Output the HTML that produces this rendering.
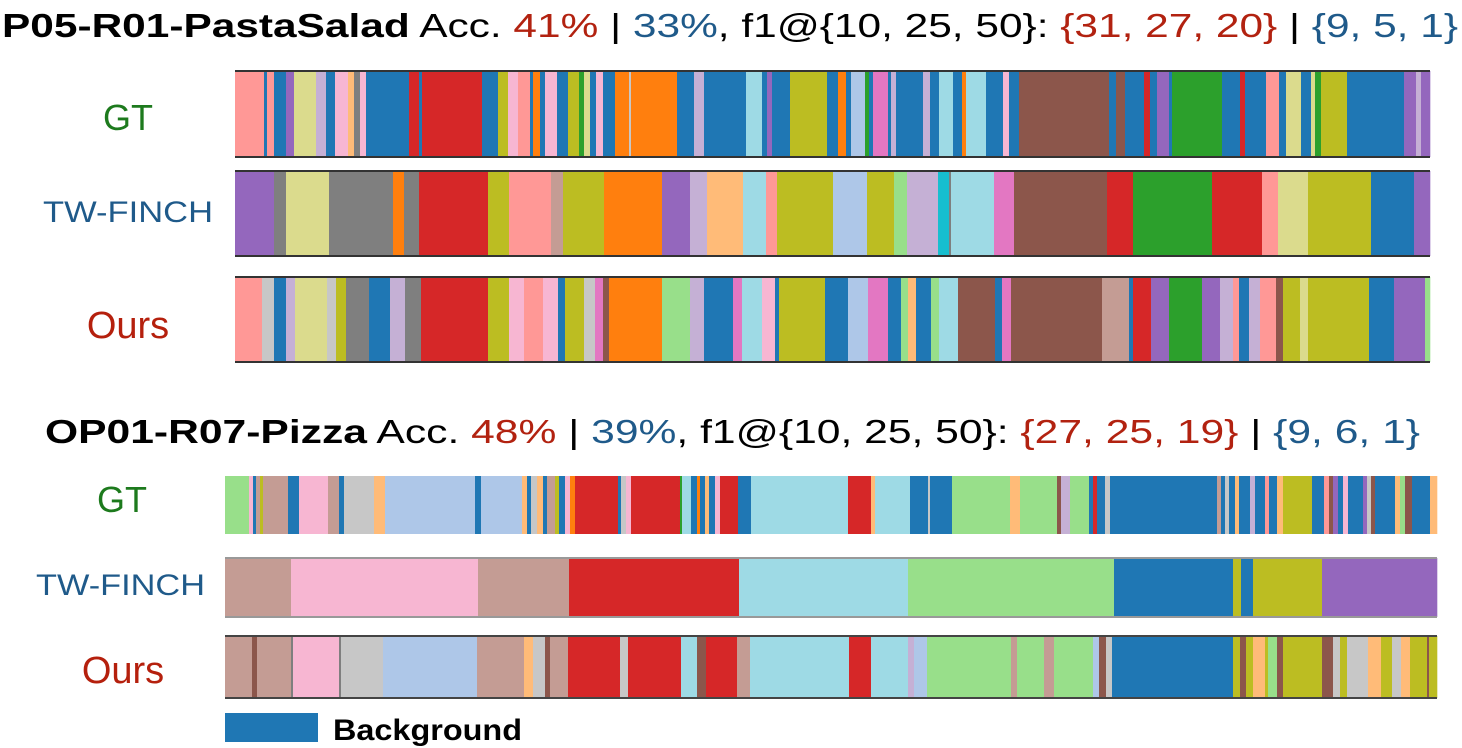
<!DOCTYPE html>
<html><head><meta charset="utf-8">
<style>
html,body{margin:0;padding:0;background:#fff;}
svg{display:block;font-family:"Liberation Sans",sans-serif;}
</style></head>
<body>
<svg id="chart" width="1462" height="748" viewBox="0 0 1462 748" xmlns="http://www.w3.org/2000/svg">
<text x="2" y="37" font-size="33" textLength="1456" lengthAdjust="spacingAndGlyphs"><tspan font-weight="bold">P05-R01-PastaSalad</tspan> Acc. <tspan fill="#b22210">41%</tspan> | <tspan fill="#1f5a8a">33%</tspan>, f1@{10, 25, 50}: <tspan fill="#b22210">{31, 27, 20}</tspan> |  <tspan fill="#1f5a8a">{9, 5, 1}</tspan></text>
<text x="45" y="443" font-size="33" textLength="1375" lengthAdjust="spacingAndGlyphs"><tspan font-weight="bold">OP01-R07-Pizza</tspan> Acc. <tspan fill="#b22210">48%</tspan> | <tspan fill="#1f5a8a">39%</tspan>, f1@{10, 25, 50}: <tspan fill="#b22210">{27, 25, 19}</tspan> |  <tspan fill="#1f5a8a">{9, 6, 1}</tspan></text>
<text x="128" y="130" font-size="36" fill="#1d7a1d" text-anchor="middle">GT</text>
<text x="43" y="222" font-size="30" fill="#1f5a8a" textLength="170" lengthAdjust="spacingAndGlyphs">TW-FINCH</text>
<text x="128" y="338" font-size="38" fill="#b5200d" text-anchor="middle">Ours</text>
<text x="122" y="512" font-size="36" fill="#1d7a1d" text-anchor="middle">GT</text>
<text x="36" y="595" font-size="30" fill="#1f5a8a" textLength="169" lengthAdjust="spacingAndGlyphs">TW-FINCH</text>
<text x="123" y="683" font-size="38" fill="#b5200d" text-anchor="middle">Ours</text>
<rect x="225" y="713" width="93" height="29" fill="#1f77b4"/>
<text x="333" y="740" font-size="30" font-weight="bold" textLength="189" lengthAdjust="spacingAndGlyphs">Background</text>
<g id="bars"></g>
</svg>
<script>
const colors = {B:"#1f77b4",b:"#aec7e8",O:"#ff7f0e",o:"#ffbb78",G:"#2ca02c",g:"#98df8a",R:"#d62728",r:"#ff9896",P:"#9467bd",p:"#c5b0d5",N:"#8c564b",n:"#c49c94",M:"#e377c2",m:"#f7b6d2",K:"#7f7f7f",k:"#c7c7c7",Y:"#bcbd22",y:"#dbdb8d",C:"#17becf",c:"#9edae5"};
const totalFrames1 = 1195;
const totalFrames2 = 1212;
const gt1 = "r:29 B:32 r:39 B:51 P:59 y:81 p:91 B:100 m:113 o:119 K:125 m:131 B:174 R:184 B:187 R:247 B:263 Y:273 m:283 r:295 B:298 O:305 B:310 m:322 B:333 Y:344 G:349 y:355 B:361 m:368 B:380 O:394 k:396 O:442 B:459 p:469 B:511 c:527 B:532 P:537 B:555 Y:592 B:603 O:611 B:616 b:630 G:634 B:638 M:653 B:656 p:661 B:688 p:695 B:704 c:718 B:727 O:731 c:751 B:768 m:774 B:784 N:874 B:881 N:890 B:909 R:915 B:922 P:934 B:937 G:987 B:1005 R:1010 B:1031 r:1044 B:1051 y:1066 B:1076 y:1080 G:1086 Y:1112 B:1169 P:1181 p:1186 P:1195";
const tw1 = "P:39 K:51 y:94 K:158 O:169 K:184 R:253 Y:274 r:316 n:328 Y:369 O:427 P:455 p:472 o:508 c:531 r:542 Y:598 b:632 Y:659 g:672 p:703 C:714 K:716 c:759 M:779 N:872 R:898 G:977 R:1027 r:1043 y:1073 Y:1136 B:1179 P:1195";
const ours1 = "r:27 k:39 B:51 p:60 y:92 k:101 Y:111 K:134 B:155 p:170 K:186 R:253 Y:274 m:289 r:308 m:323 B:330 Y:349 k:360 M:368 N:374 O:427 g:455 p:469 B:498 M:507 c:527 m:540 B:544 Y:590 B:613 b:633 M:653 B:666 g:673 o:681 B:696 g:704 c:723 N:760 B:767 M:776 N:867 n:894 B:898 R:916 P:934 G:967 P:985 p:998 r:1004 B:1014 p:1025 r:1041 N:1048 Y:1065 y:1073 Y:1134 B:1159 P:1190 g:1195";
const gt2 = "g:24 m:28 B:31 n:35 Y:38 n:63 B:74 m:103 n:114 B:119 k:149 o:160 b:250 B:256 b:297 o:302 B:306 k:312 o:318 B:322 n:330 Y:334 B:340 m:345 O:350 R:393 B:396 k:401 m:406 R:455 G:457 c:466 B:472 O:475 B:480 o:484 B:490 m:495 R:513 B:526 c:623 R:646 o:650 c:685 B:703 k:705 B:727 g:785 o:795 g:832 N:836 p:845 g:864 B:868 R:872 B:880 k:885 B:992 n:996 B:1000 k:1004 B:1010 o:1014 B:1025 p:1030 B:1040 r:1044 B:1052 o:1058 Y:1087 B:1099 r:1104 N:1108 P:1113 B:1118 m:1123 B:1138 P:1142 k:1146 N:1150 B:1170 o:1175 g:1180 N:1187 B:1205 o:1212";
const tw2 = "n:66 m:253 n:344 R:514 c:683 g:889 B:1008 Y:1016 B:1028 Y:1097 P:1212";
const ours2 = "n:27 N:32 n:66 K:68 m:114 K:116 k:158 b:252 n:299 o:308 k:320 N:325 n:343 R:395 k:403 R:456 c:472 N:481 R:512 n:525 c:624 R:646 c:683 p:689 b:702 g:786 n:792 g:819 n:829 g:868 b:874 N:881 k:887 B:1008 Y:1015 N:1021 Y:1028 o:1040 Y:1043 g:1052 N:1058 Y:1097 N:1108 k:1115 Y:1122 k:1143 o:1156 Y:1167 k:1176 o:1185 Y:1202 N:1204 Y:1212";

const NS = "http://www.w3.org/2000/svg";
const g = document.getElementById('bars');
function drawBar(name, data, total, x0, x1, y0, y1, border) {
  const scale = f => x0 + (f / total) * (x1 - x0);
  let start = 0;
  data.split(' ').forEach((tok, i) => {
    const [lab, endS] = tok.split(':');
    const end = +endS;
    const r = document.createElementNS(NS, 'rect');
    
    
    r.setAttribute('x', scale(start));
    r.setAttribute('y', y0);
    r.setAttribute('width', Math.max(0.5, scale(end) - scale(start) + 0.3));
    r.setAttribute('height', y1 - y0);
    r.setAttribute('fill', colors[lab]);
    g.appendChild(r);
    start = end;
  });
  if (border) {
    [y0, y1].forEach(y => {
      const l = document.createElementNS(NS, 'line');
      
      
      l.setAttribute('x1', x0); l.setAttribute('x2', x1);
      l.setAttribute('y1', y); l.setAttribute('y2', y);
      l.setAttribute('stroke', border); l.setAttribute('stroke-width', 2);
      g.appendChild(l);
    });
  }
}
drawBar('gt-1', gt1, totalFrames1, 235, 1430, 71, 157, '#333');
drawBar('tw-1', tw1, totalFrames1, 235, 1430, 171, 256, '#333');
drawBar('ours-1', ours1, totalFrames1, 235, 1430, 277, 362, '#333');
drawBar('gt-2', gt2, totalFrames2, 225, 1437, 476, 534, null);
drawBar('tw-2', tw2, totalFrames2, 225, 1437, 558, 617, '#999');
drawBar('ours-2', ours2, totalFrames2, 225, 1437, 636, 698, '#444');
</script>
</body></html>
